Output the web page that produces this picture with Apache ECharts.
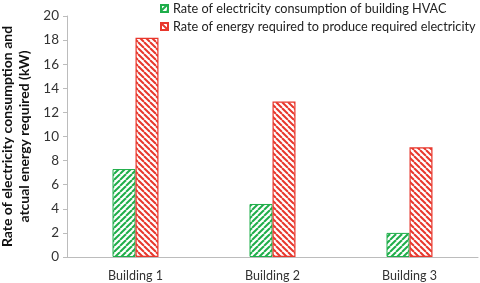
<!DOCTYPE html>
<html>
<head>
<meta charset="utf-8">
<script src="https://cdn.jsdelivr.net/npm/echarts@6/dist/echarts.min.js"></script>
<style>
  html, body { margin: 0; padding: 0; background: #fff; }
  #chart { width: 480px; height: 283px; }
</style>
</head>
<body>
<div id="chart"></div>
<script>
const categories = ['Building 1', 'Building 2', 'Building 3']
const hvacNames = 'Rate of electricity consumption of building HVAC'
const energyNames = 'Rate of energy required to produce required electricity'
const hvacValues = [7.3, 4.4, 2.0]
const energyValues = [18.2, 12.9, 9.1]
const yTicks = { min: 0, max: 20, interval: 2 }

const font = 'Lato'

// striped fill, dir 1 = "/" , -1 = "\"
function stripes(color, dir) {
  const size = 6
  const c = document.createElement('canvas')
  c.width = size
  c.height = size
  const ctx = c.getContext('2d')
  ctx.fillStyle = '#fff'
  ctx.fillRect(0, 0, size, size)
  ctx.strokeStyle = color
  ctx.lineWidth = 2
  for (let k = -1; k <= 1; k++) {
    ctx.beginPath()
    if (dir > 0) {
      ctx.moveTo(k * size, size)
      ctx.lineTo(k * size + size, 0)
    } else {
      ctx.moveTo(k * size, 0)
      ctx.lineTo(k * size + size, size)
    }
    ctx.stroke()
  }
  return { image: c, repeat: 'repeat' }
}

const green = '#1fae4a'
const red = '#e8372c'

const myChart = echarts.init(document.getElementById('chart'))
myChart.setOption({
  animation: false,
  textStyle: { fontFamily: font },
  grid: { left: 67, right: 2, top: 16, bottom: 26, outerBoundsMode: 'none', containLabel: false },
  legend: {
    orient: 'vertical',
    left: 160,
    top: 2,
    padding: 0,
    itemWidth: 7,
    itemHeight: 7,
    itemGap: 5,
    icon: 'rect',
    textStyle: { fontFamily: font, fontSize: 12.7, color: '#222' },
    data: [hvacNames, energyNames]
  },
  xAxis: {
    type: 'category',
    data: categories,
    axisLine: { lineStyle: { color: '#bcbcbc' } },
    axisTick: { show: false },
    axisLabel: { color: '#333', fontSize: 12.5, margin: 12, fontFamily: font }
  },
  yAxis: {
    type: 'value',
    min: yTicks.min,
    max: yTicks.max,
    interval: yTicks.interval,
    name: 'Rate of electricity consumption and\natcual energy required (kW)',
    nameLocation: 'middle',
    nameGap: 34,
    nameMoveOverlap: false,
    nameTextStyle: { fontWeight: 'bold', fontSize: 14, color: '#111', lineHeight: 17, fontFamily: font },
    axisLine: { show: true, lineStyle: { color: '#bcbcbc' } },
    axisTick: { show: true, length: 4, lineStyle: { color: '#bcbcbc' } },
    splitLine: { show: false },
    axisLabel: { color: '#333', fontSize: 13.5, margin: 8, fontFamily: font }
  },
  series: [
    {
      name: hvacNames,
      type: 'bar',
      data: hvacValues,
      barWidth: 23,
      barGap: '0%',
      itemStyle: { color: stripes(green, 1), borderColor: green, borderWidth: 1 }
    },
    {
      name: energyNames,
      type: 'bar',
      data: energyValues,
      barWidth: 23,
      itemStyle: { color: stripes(red, -1), borderColor: red, borderWidth: 1.2 }
    }
  ]
})
</script>
</body>
</html>
